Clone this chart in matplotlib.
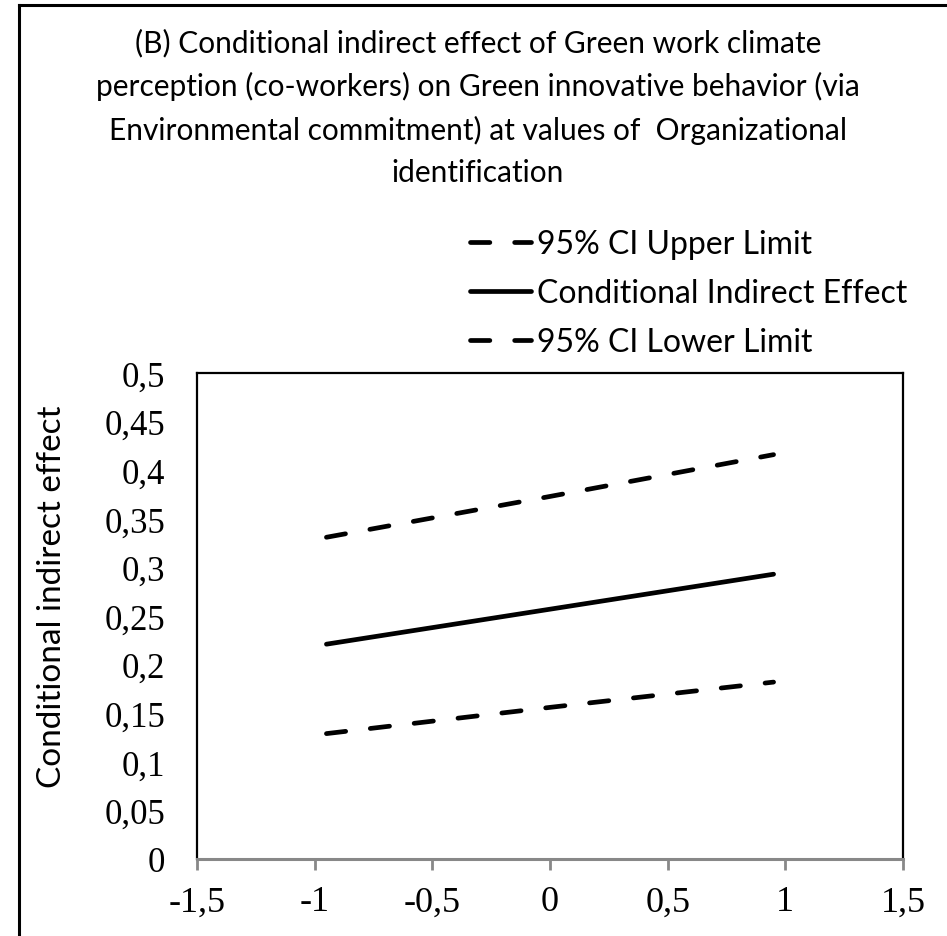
import matplotlib
matplotlib.use("Agg")
import matplotlib.pyplot as plt
from matplotlib.lines import Line2D

# values
moderator = [-0.95, 0.0, 0.95]
ci_upper = [0.331, 0.373, 0.416]
effect = [0.221, 0.257, 0.293]
ci_lower = [0.129, 0.156, 0.182]

series_labels = ["95% CI Upper Limit", "Conditional Indirect Effect", "95% CI Lower Limit"]
x_ticks = [-1.5, -1, -0.5, 0, 0.5, 1, 1.5]
y_ticks = [0, 0.05, 0.1, 0.15, 0.2, 0.25, 0.3, 0.35, 0.4, 0.45, 0.5]

title = ("(B) Conditional indirect effect of Green work climate\n"
         "perception (co-workers) on Green innovative behavior (via\n"
         "Environmental commitment) at values of  Organizational\n"
         "identification")
ylabel = "Conditional indirect effect"


def comma(v):
    return f"{v:g}".replace(".", ",")


W, H = 947, 937
fig = plt.figure(figsize=(W / 100, H / 100), dpi=100)
sans = "Lato"
serif = "Liberation Serif"

ax = fig.add_axes([197 / W, 1 - 860 / H, (903 - 197) / W, (860 - 374) / H])

dash = (0, (4.1, 5.25))
lw = 3.4
ax.plot(moderator, ci_upper, color="black", lw=lw, ls=dash, dash_capstyle="round", label=series_labels[0])
ax.plot(moderator, effect, color="black", lw=lw, solid_capstyle="round", label=series_labels[1])
ax.plot(moderator, ci_lower, color="black", lw=lw, ls=dash, dash_capstyle="round", label=series_labels[2])

ax.set_xlim(-1.5, 1.5)
ax.set_ylim(0, 0.5)
ax.set_xticks(x_ticks)
ax.set_xticklabels([comma(v) for v in x_ticks], fontfamily=serif, fontsize=26)
ax.set_yticks(y_ticks)
ax.set_yticklabels([comma(v) for v in y_ticks], fontfamily=serif, fontsize=25)
ax.tick_params(axis="x", direction="out", length=8, width=2, color="#888888", pad=11)
ax.tick_params(axis="y", length=0, pad=23)

for side in ["top", "right", "left"]:
    ax.spines[side].set_color("black")
    ax.spines[side].set_linewidth(1.6)
ax.spines["bottom"].set_color("#888888")
ax.spines["bottom"].set_linewidth(2.2)

ax.set_ylabel(ylabel, fontfamily=sans, fontsize=24)
ax.yaxis.set_label_coords((67 - 197) / 706, (860 - 597) / 486)

fig.text(478 / W, 1 - 29 / H, title, ha="center", va="top", fontfamily=sans,
         fontsize=21.5, linespacing=1.6)

leg = ax.legend(loc="upper left", bbox_to_anchor=(470 / W, 1 - 230 / H),
                bbox_transform=fig.transFigure, frameon=False,
                prop={"family": sans, "size": 23}, handlelength=1.9,
                handletextpad=0.2, labelspacing=0.6, borderpad=0, borderaxespad=0)

# outer chart border (left and top edges visible)
fig.add_artist(Line2D([19 / W, 19 / W], [0, 1 - 6 / H], transform=fig.transFigure, color="black", lw=2.2))
fig.add_artist(Line2D([19 / W, 1], [1 - 6 / H, 1 - 6 / H], transform=fig.transFigure, color="black", lw=2.2))

fig.savefig("out.png", dpi=100)
